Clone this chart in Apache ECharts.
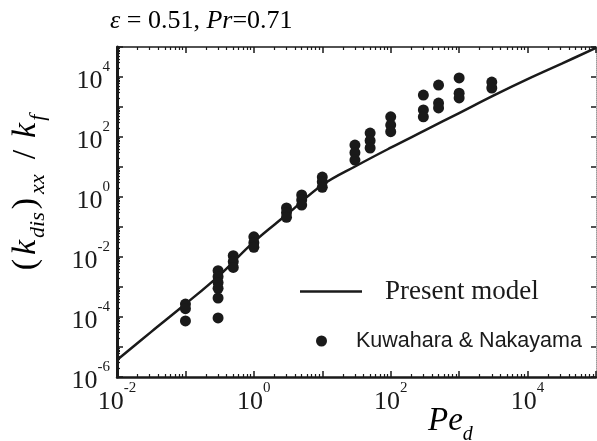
<!DOCTYPE html>
<html><head><meta charset="utf-8">
<script src="https://cdn.jsdelivr.net/npm/echarts@6/dist/echarts.min.js"></script>
<style>html,body{margin:0;padding:0;background:#fff}#c{width:597px;height:441px}</style>
</head><body><div id="c"></div>
<script>
// ---- data ----
const modelPe = [0.01, 0.0316, 0.1, 0.316, 1, 3.16, 10, 31.6, 100, 316, 1000, 3160, 10000, 31600, 100000];
const modelK  = [3.7e-6, 3.2e-5, 2.7e-4, 2.5e-3, 0.032, 0.28, 2.5, 11, 44, 166, 630, 2400, 8500, 28000, 93000];

const expPe = [0.1, 0.1, 0.1,
  0.3, 0.3, 0.3, 0.3, 0.3, 0.3,
  0.5, 0.5, 0.5,
  1, 1, 1,
  3, 3, 3,
  5, 5, 5,
  10, 10, 10,
  30, 30, 30,
  50, 50, 50,
  100, 100, 100,
  300, 300, 300,
  500, 500, 500,
  1000, 1000, 1000,
  3000, 3000];
const expK = [2.7e-4, 1.9e-4, 7.4e-5,
  3.5e-3, 2.2e-3, 1.4e-3, 9.0e-4, 4.3e-4, 9.3e-5,
  0.011, 0.007, 0.0045,
  0.047, 0.030, 0.021,
  0.43, 0.30, 0.21,
  1.17, 0.80, 0.54,
  4.6, 3.2, 2.1,
  54, 30, 17,
  135, 75, 43,
  470, 250, 150,
  2500, 800, 470,
  5400, 1350, 930,
  9300, 2900, 2000,
  6800, 4300];

const xLabelExps = [-2, 0, 2, 4];
const yLabelExps = [-6, -4, -2, 0, 2, 4];
const seriesNames = ['Present model', 'Kuwahara & Nakayama'];

// ---- helpers ----
const INK = '#1a1a1a';
const SERIF = 'Liberation Serif';
function minorValues(lo, hi) {
  const out = [];
  for (let e = lo; e < hi; e++) for (let m = 2; m <= 9; m++) out.push(+(m * Math.pow(10, e)).toPrecision(3));
  return out;
}
function expFormatter(list) {
  return function (v) {
    const e = Math.round(Math.log10(v));
    if (list.indexOf(e) < 0) return '';
    return '{b|10}{s|' + (e < 0 ? '-' + (-e) : '' + e) + '}';
  };
}
const tickRich = {
  b: { fontFamily: SERIF, fontSize: 26, lineHeight: 34, verticalAlign: 'bottom', color: INK },
  s: { fontFamily: SERIF, fontSize: 15, lineHeight: 18, verticalAlign: 'top', color: INK }
};
const noSplit = { show: false };

const chart = echarts.init(document.getElementById('c'), null, { renderer: 'canvas' });
chart.setOption({
  animation: false,
  backgroundColor: '#fff',
  grid: { left: 117, right: 1, top: 47, bottom: 64, outerBoundsMode: 'none', containLabel: false },
  xAxis: [
    { type: 'log', min: 0.01, max: 100000, interval: 1, position: 'bottom', gridIndex: 0,
      axisLine: { show: true, lineStyle: { color: INK, width: 2.5 } },
      axisTick: { show: true, inside: true, length: 6, lineStyle: { color: INK, width: 1.5 } },
      axisLabel: { show: true, margin: 4, formatter: expFormatter(xLabelExps), rich: tickRich },
      splitLine: noSplit, minorTick: { show: false } },
    { type: 'log', min: 0.01, max: 100000, position: 'bottom', gridIndex: 0,
      axisLine: { show: false },
      axisTick: { show: true, inside: true, length: 3, customValues: minorValues(-2, 5), lineStyle: { color: INK, width: 1.2 } },
      axisLabel: { show: false }, splitLine: noSplit },
    { type: 'log', min: 0.01, max: 100000, interval: 1, position: 'top', gridIndex: 0,
      axisLine: { show: true, lineStyle: { color: INK, width: 1.5 } },
      axisTick: { show: true, inside: true, length: 6, lineStyle: { color: INK, width: 1.5 } },
      axisLabel: { show: false }, splitLine: noSplit },
    { type: 'log', min: 0.01, max: 100000, position: 'top', gridIndex: 0,
      axisLine: { show: false },
      axisTick: { show: true, inside: true, length: 3, customValues: minorValues(-2, 5), lineStyle: { color: INK, width: 1.2 } },
      axisLabel: { show: false }, splitLine: noSplit }
  ],
  yAxis: [
    { type: 'log', min: 1e-6, max: 1e5, interval: 1, position: 'left', gridIndex: 0,
      axisLine: { show: true, lineStyle: { color: INK, width: 3 } },
      axisTick: { show: true, inside: true, length: 6, lineStyle: { color: INK, width: 1.5 } },
      axisLabel: { show: true, margin: 7, formatter: expFormatter(yLabelExps), rich: tickRich },
      splitLine: noSplit },
    { type: 'log', min: 1e-6, max: 1e5, position: 'left', gridIndex: 0,
      axisLine: { show: false },
      axisTick: { show: true, inside: true, length: 3, customValues: minorValues(-6, 5), lineStyle: { color: INK, width: 1.2 } },
      axisLabel: { show: false }, splitLine: noSplit },
    { type: 'log', min: 1e-6, max: 1e5, interval: 1, position: 'right', gridIndex: 0,
      axisLine: { show: true, lineStyle: { color: '#999', width: 1, type: 'dotted' } },
      axisTick: { show: true, inside: true, length: 5, lineStyle: { color: INK, width: 1.5 } },
      axisLabel: { show: false }, splitLine: noSplit }
  ],
  legend: [
    { data: [seriesNames[0]], left: 300, top: 278, padding: 0, itemWidth: 62, itemHeight: 2.5, icon: 'rect',
      itemStyle: { color: INK },
      textStyle: { fontFamily: SERIF, fontSize: 27, color: INK, padding: [0, 0, 0, 18] } },
    { data: [seriesNames[1]], left: 316, top: 330, padding: 0, itemWidth: 11, itemHeight: 11, icon: 'circle',
      textStyle: { fontFamily: 'Liberation Sans', fontSize: 21.5, color: INK, padding: [0, 0, 0, 24] } }
  ],
  graphic: [
    { type: 'text', x: 110, y: 21, z: 10,
      style: { text: '{i|ε}{n| = 0.51, }{i|Pr}{n|=0.71}', verticalAlign: 'middle', align: 'left',
        rich: { i: { fontFamily: SERIF, fontStyle: 'italic', fontSize: 26, color: INK },
                n: { fontFamily: SERIF, fontSize: 26, color: INK } } } },
    { type: 'text', x: 428, y: 425, z: 10,
      style: { text: '{i|Pe}{d|d}', verticalAlign: 'middle', align: 'left',
        rich: { i: { fontFamily: SERIF, fontStyle: 'italic', fontSize: 33, lineHeight: 40, verticalAlign: 'top', color: INK },
                d: { fontFamily: SERIF, fontStyle: 'italic', fontSize: 20, lineHeight: 22, verticalAlign: 'bottom', color: INK } } } },
    { type: 'text', x: 29, y: 191, rotation: Math.PI / 2, z: 10,
      style: { text: '{n|(}{i|k}{s|dis}{n|)}{s|xx}{m|/}{i|k}{s|f}', verticalAlign: 'middle', align: 'center',
        rich: {
          n: { fontFamily: SERIF, fontSize: 34, lineHeight: 40, verticalAlign: 'top', color: INK, padding: [0, 4, 0, 0] },
          i: { fontFamily: SERIF, fontStyle: 'italic', fontSize: 34, lineHeight: 40, verticalAlign: 'top', color: INK, padding: [0, 2, 0, 0] },
          m: { fontFamily: SERIF, fontSize: 34, lineHeight: 40, verticalAlign: 'top', color: INK, padding: [0, 12, 0, 12] },
          s: { fontFamily: SERIF, fontStyle: 'italic', fontSize: 22, lineHeight: 22, verticalAlign: 'bottom', color: INK, padding: [0, 3, 0, 0] }
        } } }
  ],
  series: [
    { name: seriesNames[0], type: 'line', xAxisIndex: 0, yAxisIndex: 0, symbol: 'none', showSymbol: false, smooth: 0.4,
      lineStyle: { color: INK, width: 2.5 }, itemStyle: { color: INK },
      data: modelPe.map((p, i) => [p, modelK[i]]), z: 3 },
    { name: seriesNames[1], type: 'scatter', xAxisIndex: 0, yAxisIndex: 0, symbol: 'circle', symbolSize: 11,
      itemStyle: { color: INK, opacity: 1 },
      data: expPe.map((p, i) => [p, expK[i]]), z: 4 }
  ]
});
</script></body></html>
